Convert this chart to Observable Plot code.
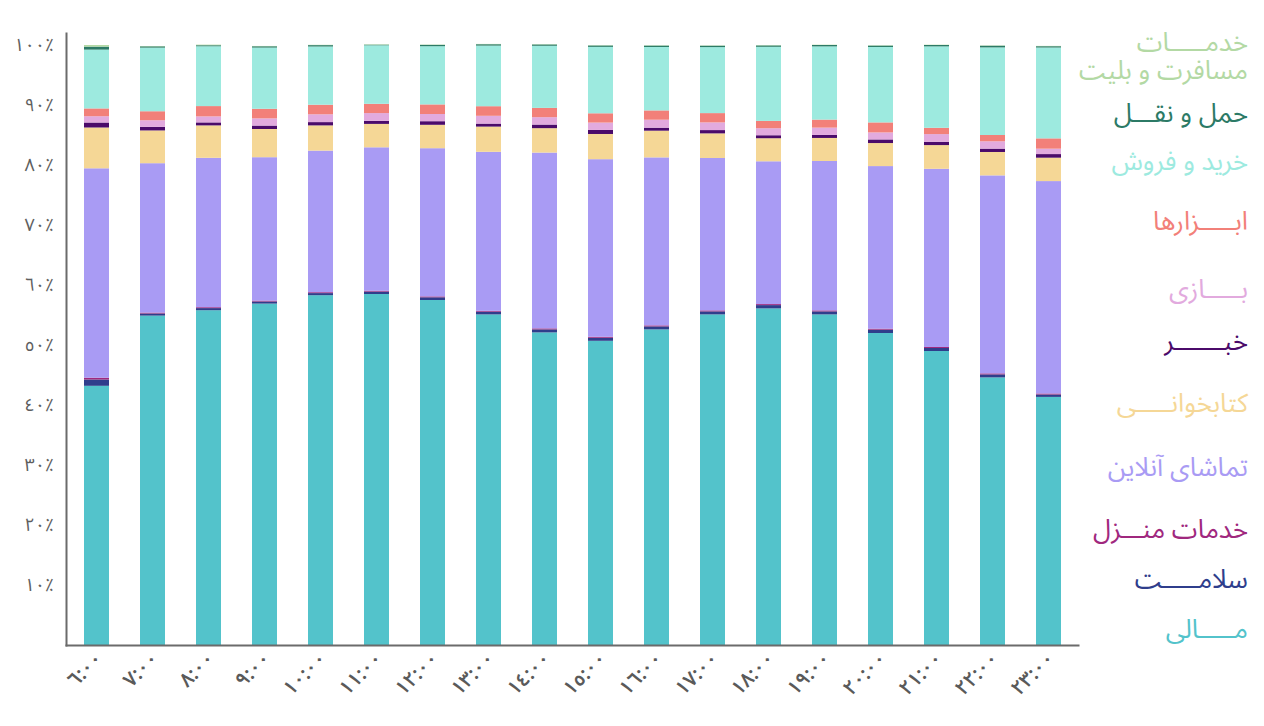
<!DOCTYPE html>
<html>
<head>
<meta charset="utf-8">
<script src="https://cdn.jsdelivr.net/npm/d3@7"></script>
<script src="https://cdn.jsdelivr.net/npm/@observablehq/plot@0.6"></script>
<style>
  body { margin: 0; background: #fff; }
  #wrap { position: relative; width: 1264px; height: 726px; overflow: hidden; }
  #legend { position: absolute; right: 16px; top: 0; width: 220px; height: 726px; }
  .li { position: absolute; right: 0; direction: rtl; text-align: right; font-size: 26px; line-height: 26px;
        white-space: nowrap; font-family: "Noto Sans Arabic", "Vazirmatn", "DejaVu Sans", sans-serif; }
  svg text { font-family: "Noto Sans Arabic", "Vazirmatn", "DejaVu Sans", sans-serif; }
</style>
</head>
<body>
<div id="wrap"><div id="chart"></div><div id="legend"></div></div>
<script>
const hours = ["٦:٠٠","٧:٠٠","٨:٠٠","٩:٠٠","١٠:٠٠","١١:٠٠","١٢:٠٠","١٣:٠٠","١٤:٠٠","١٥:٠٠","١٦:٠٠","١٧:٠٠","١٨:٠٠","١٩:٠٠","٢٠:٠٠","٢١:٠٠","٢٢:٠٠","٢٣:٠٠"];
const yTicks = [10, 20, 30, 40, 50, 60, 70, 80, 90, 100];
const yTickLabels = ["١٠٪","٢٠٪","٣٠٪","٤٠٪","٥٠٪","٦٠٪","٧٠٪","٨٠٪","٩٠٪","١٠٠٪"];

// series, bottom to top
const seriesNames = ["مالی","سلامت","خدمات منزل","تماشای آنلاین","کتابخوانی","خبر","بازی","ابزارها","خرید و فروش","حمل و نقل","خدمات مسافرت و بلیت"];
const legendLabels = [["مـــــالی"],["سلامـــــت"],["خدمات منـــزل"],["تماشای آنلاین"],["کتابخوانـــــی"],["خبـــــــر"],["بـــــازی"],["ابـــــزارها"],["خرید و فروش"],["حمل و نقـــل"],["خدمـــــات","مسافرت و بلیت"]];
const colors = ["#53c3cb","#2f3e8c","#a0287e","#a99bf4","#f5d796","#4b0a6a","#e2aade","#f28079","#9deadf","#2c7a66","#b3d9a4"];

const mali     = [43.2,54.9,55.8,56.9,58.3,58.5,57.5,55.1,52.1,50.7,52.6,55.1,56.1,55.1,52.0,49.0,44.6,41.35];
const salamat  = [1.05,0.35,0.35,0.35,0.35,0.4,0.45,0.45,0.5,0.5,0.5,0.5,0.55,0.5,0.55,0.5,0.5,0.4];
const manzel   = [0.3,0.15,0.15,0.15,0.15,0.15,0.15,0.15,0.17,0.17,0.17,0.17,0.17,0.17,0.17,0.17,0.17,0.17];
const tamasha  = [34.9,24.9,24.9,23.9,23.6,23.9,24.7,26.5,29.3,29.6,28.0,25.4,23.8,24.9,27.1,29.7,33.0,35.4];
const ketab    = [6.8,5.46,5.4,4.7,4.2,3.9,3.9,4.2,4.07,4.2,4.45,4.1,3.84,3.84,3.84,3.95,3.9,3.9];
const khabar   = [0.83,0.6,0.5,0.57,0.55,0.5,0.6,0.5,0.6,0.67,0.5,0.55,0.5,0.5,0.6,0.55,0.56,0.6];
const bazi     = [1.05,1.1,1.0,1.2,1.3,1.3,1.2,1.3,1.23,1.23,1.33,1.28,1.17,1.22,1.17,1.28,1.22,0.9];
const abzar    = [1.3,1.5,1.72,1.6,1.6,1.55,1.6,1.6,1.55,1.55,1.55,1.55,1.22,1.34,1.67,1.05,1.05,1.72];
const kharid   = [9.8,10.6,9.97,10.2,9.7,9.75,9.7,10.1,10.35,11.07,10.57,11.0,12.35,12.2,12.57,13.57,14.6,15.14];
const haml     = [0.5,0.22,0.17,0.22,0.23,0.1,0.22,0.23,0.22,0.23,0.23,0.23,0.23,0.23,0.23,0.23,0.28,0.22];
const safar    = [0.27,0.05,0.1,0.05,0.05,0.07,0.05,0.05,0.05,0.05,0.05,0.05,0.05,0.05,0.05,0.05,0.05,0.05];

const seriesValues = [mali, salamat, manzel, tamasha, ketab, khabar, bazi, abzar, kharid, haml, safar];
const data = [];
hours.forEach((h, i) => seriesNames.forEach((s, j) => data.push({hour: h, series: s, value: seriesValues[j][i]})));

const axisColor = "#6b6b6b";
const chart = Plot.plot({
  width: 1264,
  height: 726,
  marginLeft: 66,
  marginRight: 186,
  marginTop: 33,
  marginBottom: 81,
  x: {domain: hours, paddingInner: 0.555, paddingOuter: 0.28, label: null},
  y: {domain: [0, 102], label: null},
  color: {domain: seriesNames, range: colors},
  marks: [
    Plot.barY(data, Plot.stackY({x: "hour", y: "value", fill: "series", order: seriesNames})),
    Plot.axisY({ticks: yTicks, tickFormat: d => yTickLabels[yTicks.indexOf(d)], tickSize: 0, tickPadding: 13,
                fontSize: 18, fill: "#5e5e5e", label: null}),
    Plot.axisX({tickRotate: -45, tickSize: 0, tickPadding: 10, dx: 2, fontSize: 20, fontWeight: 600, fill: "#5a5a5a", label: null}),
    Plot.frame({anchor: "left", stroke: axisColor, strokeWidth: 2}),
    Plot.frame({anchor: "bottom", stroke: axisColor, strokeWidth: 2})
  ]
});
document.getElementById("chart").appendChild(chart);

const legendCenters = [[630], [580], [530], [468], [404], [342], [290], [222], [162], [114], [43, 71]];
const legend = document.getElementById("legend");
seriesNames.forEach((s, j) => {
  legendLabels[j].forEach((txt, k) => {
    const div = document.createElement("div");
    div.className = "li";
    div.style.color = colors[j];
    div.textContent = txt;
    div.style.top = (legendCenters[j][k] - 13) + "px";
    legend.appendChild(div);
  });
});
</script>
</body>
</html>
